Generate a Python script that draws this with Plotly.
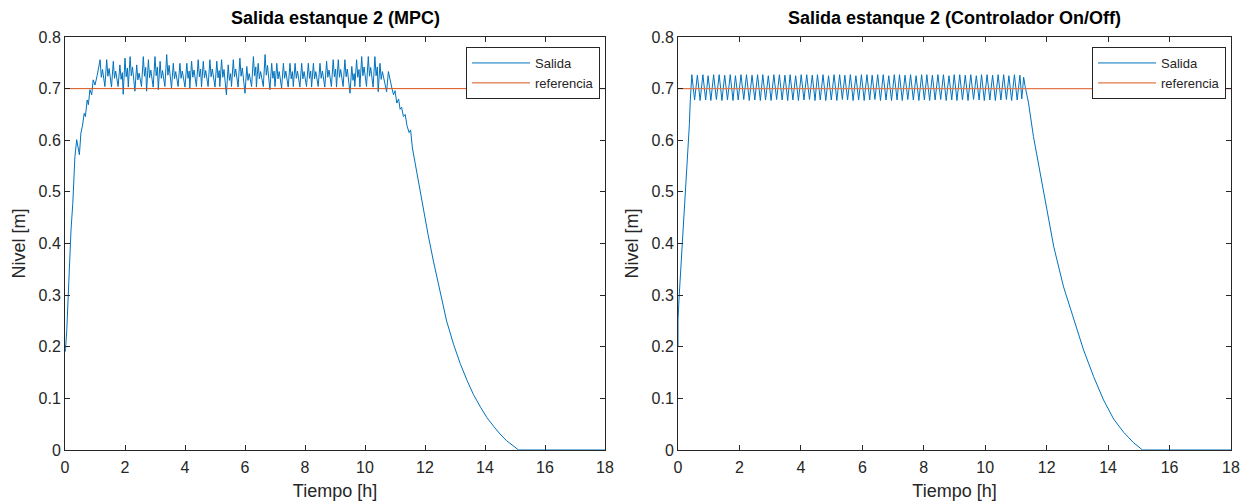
import plotly.graph_objects as go

# ---------------- data ----------------
x_ticks = [0, 2, 4, 6, 8, 10, 12, 14, 16, 18]
y_ticks = [0, 0.1, 0.2, 0.3, 0.4, 0.5, 0.6, 0.7, 0.8]
ref_t = [0, 18]
ref_y = [0.7, 0.7]

# MPC controller
mpc_rise_t = [0.0, 0.02, 0.06, 0.09, 0.13, 0.17, 0.20, 0.26, 0.30, 0.33, 0.39, 0.42, 0.48,
              0.53, 0.58, 0.64, 0.68, 0.74, 0.78, 0.83, 0.89, 0.94, 1.00, 1.07]
mpc_rise_y = [0.19, 0.197, 0.233, 0.278, 0.336, 0.375, 0.426, 0.478, 0.523, 0.568, 0.601, 0.591, 0.572,
              0.614, 0.627, 0.652, 0.646, 0.678, 0.669, 0.698, 0.688, 0.717, 0.707, 0.725]
mpc_peak_t = [1.17, 1.39, 1.61, 1.83, 2.00, 2.17, 2.39, 2.61, 2.78, 3.00, 3.17, 3.39, 3.61, 3.83,
              4.06, 4.22, 4.44, 4.61, 4.83, 5.06, 5.22, 5.44, 5.61, 5.83, 6.06, 6.28, 6.44, 6.67,
              6.89, 7.06, 7.28, 7.50, 7.67, 7.89, 8.11, 8.28, 8.50, 8.72, 8.94, 9.11, 9.33, 9.56,
              9.72, 9.89, 10.11, 10.33, 10.50, 10.78]
mpc_peak_y = [0.756, 0.756, 0.753, 0.746, 0.759, 0.762, 0.746, 0.762, 0.756, 0.762, 0.753, 0.766, 0.749, 0.749,
              0.749, 0.753, 0.756, 0.753, 0.756, 0.753, 0.756, 0.746, 0.756, 0.759, 0.743, 0.762, 0.749, 0.766,
              0.749, 0.749, 0.749, 0.749, 0.749, 0.749, 0.749, 0.749, 0.749, 0.753, 0.756, 0.756, 0.756, 0.743,
              0.756, 0.762, 0.762, 0.762, 0.749, 0.733]
mpc_dip_t = [1.21, 1.43, 1.65, 1.87, 2.04, 2.21, 2.43, 2.65, 2.82, 3.04, 3.21, 3.43, 3.65, 3.87,
             4.10, 4.26, 4.48, 4.65, 4.87, 5.10, 5.26, 5.48, 5.65, 5.87, 6.10, 6.32, 6.48, 6.71,
             6.93, 7.10, 7.32, 7.54, 7.71, 7.93, 8.15, 8.32, 8.54, 8.76, 8.98, 9.15, 9.37, 9.60,
             9.76, 9.93, 10.15, 10.37, 10.54]
mpc_dip_y = [0.722, 0.724, 0.720, 0.718, 0.723, 0.725, 0.717, 0.724, 0.721, 0.725, 0.720, 0.726, 0.719, 0.720,
             0.720, 0.722, 0.723, 0.721, 0.723, 0.721, 0.722, 0.716, 0.723, 0.724, 0.716, 0.725, 0.719, 0.726,
             0.720, 0.719, 0.720, 0.719, 0.720, 0.719, 0.720, 0.719, 0.720, 0.722, 0.723, 0.722, 0.723, 0.716,
             0.722, 0.725, 0.724, 0.725, 0.718]
mpc_sub_t = [1.25, 1.47, 1.69, 1.91, 2.08, 2.25, 2.47, 2.69, 2.86, 3.08, 3.25, 3.47, 3.69, 3.91,
             4.14, 4.30, 4.52, 4.69, 4.91, 5.14, 5.30, 5.52, 5.69, 5.91, 6.14, 6.36, 6.52, 6.75,
             6.97, 7.14, 7.36, 7.58, 7.75, 7.97, 8.19, 8.36, 8.58, 8.80, 9.02, 9.19, 9.41, 9.64,
             9.80, 9.97, 10.19, 10.41, 10.58]
mpc_sub_y = [0.737, 0.739, 0.734, 0.731, 0.740, 0.742, 0.730, 0.741, 0.736, 0.742, 0.735, 0.745, 0.733, 0.734,
             0.734, 0.736, 0.738, 0.735, 0.738, 0.735, 0.737, 0.729, 0.738, 0.740, 0.729, 0.742, 0.733, 0.745,
             0.734, 0.733, 0.734, 0.733, 0.734, 0.733, 0.734, 0.733, 0.734, 0.736, 0.738, 0.737, 0.738, 0.729,
             0.737, 0.742, 0.741, 0.742, 0.733]
mpc_trough_t = [1.33, 1.55, 1.77, 1.94, 2.11, 2.33, 2.55, 2.72, 2.94, 3.11, 3.33, 3.55, 3.77, 4.00,
                4.16, 4.38, 4.55, 4.77, 5.00, 5.16, 5.38, 5.55, 5.77, 6.00, 6.22, 6.38, 6.61, 6.83,
                7.00, 7.22, 7.44, 7.61, 7.83, 8.05, 8.22, 8.44, 8.66, 8.88, 9.05, 9.27, 9.50, 9.66,
                9.83, 10.05, 10.27, 10.44, 10.72]
mpc_trough_y = [0.704, 0.703, 0.704, 0.689, 0.703, 0.695, 0.704, 0.695, 0.703, 0.698, 0.704, 0.701, 0.704, 0.703,
                0.701, 0.704, 0.703, 0.704, 0.703, 0.704, 0.688, 0.704, 0.703, 0.691, 0.704, 0.703, 0.704, 0.698,
                0.704, 0.701, 0.703, 0.704, 0.703, 0.704, 0.703, 0.704, 0.703, 0.704, 0.703, 0.704, 0.691, 0.704,
                0.703, 0.704, 0.703, 0.694, 0.694]
mpc_fall_t = [10.90, 10.95, 11.00, 11.06, 11.12, 11.17, 11.22, 11.28, 11.34, 11.40, 11.47, 11.52, 11.58,
              11.75, 11.94, 12.10, 12.28, 12.50, 12.72, 12.95, 13.17, 13.40, 13.61, 13.85, 14.06, 14.30,
              14.50, 14.72, 14.94, 15.12, 18.0]
mpc_fall_y = [0.700, 0.688, 0.696, 0.672, 0.680, 0.660, 0.664, 0.646, 0.650, 0.628, 0.615, 0.620, 0.585,
              0.528, 0.466, 0.418, 0.366, 0.305, 0.250, 0.205, 0.168, 0.135, 0.108, 0.083, 0.063, 0.045,
              0.031, 0.018, 0.008, 0.0, 0.0]

# On/Off controller
onoff_rise_t = [0.0, 0.0, 0.04, 0.09, 0.15, 0.20, 0.25, 0.30, 0.34, 0.37, 0.40]
onoff_rise_y = [0.20, 0.252, 0.300, 0.349, 0.397, 0.442, 0.491, 0.539, 0.588, 0.630, 0.678]
onoff_peak_t = [0.45, 0.63, 0.81, 0.98, 1.16, 1.34, 1.52, 1.70, 1.87, 2.05, 2.23, 2.41, 2.59, 2.76,
                2.94, 3.12, 3.30, 3.48, 3.65, 3.83, 4.01, 4.19, 4.37, 4.54, 4.72, 4.90, 5.08, 5.26,
                5.43, 5.61, 5.79, 5.97, 6.15, 6.32, 6.50, 6.68, 6.86, 7.04, 7.21, 7.39, 7.57, 7.75,
                7.93, 8.10, 8.28, 8.46, 8.64, 8.82, 8.99, 9.17, 9.35, 9.53, 9.71, 9.88, 10.06, 10.24,
                10.42, 10.60, 10.77, 10.95, 11.13, 11.25]
onoff_peak_y = [0.727, 0.726, 0.727, 0.725, 0.727, 0.727, 0.726, 0.727, 0.725, 0.727, 0.727, 0.726, 0.727, 0.727,
                0.725, 0.727, 0.727, 0.726, 0.727, 0.725, 0.727, 0.727, 0.726, 0.727, 0.727, 0.725, 0.727, 0.727,
                0.726, 0.727, 0.725, 0.727, 0.727, 0.726, 0.727, 0.727, 0.725, 0.727, 0.727, 0.726, 0.727, 0.725,
                0.727, 0.727, 0.726, 0.727, 0.727, 0.725, 0.727, 0.727, 0.726, 0.727, 0.725, 0.727, 0.727, 0.726,
                0.727, 0.727, 0.725, 0.727, 0.726, 0.722]
onoff_trough_t = [0.54, 0.72, 0.90, 1.07, 1.25, 1.43, 1.61, 1.79, 1.96, 2.14, 2.32, 2.50, 2.68, 2.85,
                  3.03, 3.21, 3.39, 3.57, 3.74, 3.92, 4.10, 4.28, 4.46, 4.63, 4.81, 4.99, 5.17, 5.35,
                  5.52, 5.70, 5.88, 6.06, 6.24, 6.41, 6.59, 6.77, 6.95, 7.13, 7.30, 7.48, 7.66, 7.84,
                  8.02, 8.19, 8.37, 8.55, 8.73, 8.91, 9.08, 9.26, 9.44, 9.62, 9.80, 9.97, 10.15, 10.33,
                  10.51, 10.69, 10.86, 11.04, 11.19]
onoff_trough_y = [0.678, 0.677, 0.678, 0.677, 0.679, 0.677, 0.678, 0.677, 0.678, 0.679, 0.677, 0.678, 0.677, 0.678,
                  0.677, 0.679, 0.678, 0.677, 0.678, 0.677, 0.678, 0.679, 0.677, 0.678, 0.677, 0.678, 0.677, 0.679,
                  0.678, 0.677, 0.678, 0.677, 0.678, 0.679, 0.677, 0.678, 0.677, 0.678, 0.677, 0.679, 0.678, 0.677,
                  0.678, 0.677, 0.678, 0.679, 0.677, 0.678, 0.677, 0.678, 0.677, 0.679, 0.678, 0.677, 0.678, 0.677,
                  0.678, 0.679, 0.677, 0.678, 0.680]
onoff_fall_t = [11.30, 11.41, 11.57, 11.79, 12.01, 12.23, 12.55, 12.88, 13.20, 13.53, 13.85, 14.18, 14.51,
                14.83, 15.12, 18.0]
onoff_fall_y = [0.704, 0.672, 0.607, 0.537, 0.465, 0.394, 0.316, 0.252, 0.194, 0.142, 0.097, 0.060, 0.034,
                0.014, 0.0, 0.0]


def assemble(rise_t, rise_y, osc_parts, fall_t, fall_y):
    pts = []
    for pt, pv in osc_parts:
        pts += list(zip(pt, pv))
    pts.sort()
    t = list(rise_t) + [p[0] for p in pts] + list(fall_t)
    y = list(rise_y) + [p[1] for p in pts] + list(fall_y)
    return t, y


mpc_t, mpc_y = assemble(mpc_rise_t, mpc_rise_y,
                        [(mpc_peak_t, mpc_peak_y), (mpc_dip_t, mpc_dip_y),
                         (mpc_sub_t, mpc_sub_y), (mpc_trough_t, mpc_trough_y)],
                        mpc_fall_t, mpc_fall_y)
onoff_t, onoff_y = assemble(onoff_rise_t, onoff_rise_y,
                            [(onoff_peak_t, onoff_peak_y), (onoff_trough_t, onoff_trough_y)],
                            onoff_fall_t, onoff_fall_y)

titles = ["Salida estanque 2 (MPC)", "Salida estanque 2 (Controlador On/Off)"]
series_names = ["Salida", "referencia"]

# ---------------- figure ----------------
W, H = 1254, 504
BLUE = "#0072BD"
ORANGE = "#D95319"
ORANGE_R = "#E2794C"
AXC = "#262626"
FONT = "Liberation Sans, Arial, Helvetica, sans-serif"

fig = go.Figure()
fig.add_trace(go.Scatter(x=mpc_t, y=mpc_y, mode="lines", name=series_names[0],
                         line=dict(color=BLUE, width=1), xaxis="x", yaxis="y", legend="legend"))
fig.add_trace(go.Scatter(x=ref_t, y=ref_y, mode="lines", name=series_names[1],
                         line=dict(color=ORANGE, width=1), xaxis="x", yaxis="y", legend="legend"))
fig.add_trace(go.Scatter(x=onoff_t, y=onoff_y, mode="lines", name=series_names[0],
                         line=dict(color=BLUE, width=1), xaxis="x2", yaxis="y2", legend="legend2"))
fig.add_trace(go.Scatter(x=ref_t, y=ref_y, mode="lines", name=series_names[1],
                         line=dict(color=ORANGE_R, width=1.3), xaxis="x2", yaxis="y2", legend="legend2"))

px = lambda v: v / W
py = lambda v: 1 - v / H

dom1 = [px(65), px(605)]
dom2 = [px(678), px(1231)]
ydom = [py(450), py(37)]

axis_common = dict(showline=True, linecolor=AXC, linewidth=1, mirror="ticks", ticks="inside",
                   ticklen=5, tickcolor=AXC, showgrid=False, zeroline=False, automargin=False,
                   tickfont=dict(family=FONT, size=16, color=AXC))

xa = dict(axis_common, range=[0, 18], tickvals=x_ticks, ticklabelstandoff=3,
          title=dict(text="Tiempo [h]", font=dict(family=FONT, size=18, color=AXC), standoff=9))
ya = dict(axis_common, range=[0, 0.8], tickvals=y_ticks, domain=ydom,
          title=dict(text="Nivel [m]", font=dict(family=FONT, size=18, color=AXC), standoff=8))

legend_common = dict(xanchor="right", yanchor="top", bgcolor="white", bordercolor=AXC,
                     borderwidth=1, font=dict(family=FONT, size=13, color=AXC),
                     itemwidth=58, tracegroupgap=0)

fig.update_layout(
    width=W, height=H, autosize=False,
    margin=dict(l=0, r=0, t=0, b=0, autoexpand=False),
    paper_bgcolor="white", plot_bgcolor="white",
    font=dict(family=FONT, color=AXC),
    xaxis=dict(xa, domain=dom1, anchor="y"),
    yaxis=dict(ya, anchor="x"),
    xaxis2=dict(xa, domain=dom2, anchor="y2"),
    yaxis2=dict(ya, anchor="x2"),
    legend=dict(legend_common, x=px(600), y=py(47)),
    legend2=dict(legend_common, x=px(1226), y=py(47)),
    showlegend=True,
    annotations=[
        dict(text="<b>" + titles[0] + "</b>", x=(dom1[0] + dom1[1]) / 2, y=py(18),
             xref="paper", yref="paper", showarrow=False, xanchor="center", yanchor="middle",
             font=dict(family=FONT, size=18, color="#000000")),
        dict(text="<b>" + titles[1] + "</b>", x=(dom2[0] + dom2[1]) / 2, y=py(18),
             xref="paper", yref="paper", showarrow=False, xanchor="center", yanchor="middle",
             font=dict(family=FONT, size=18, color="#000000")),
    ],
)

fig.write_html("out.html", config={"displayModeBar": False},
               post_script="document.body.style.margin='0';document.body.style.overflow='hidden';")
